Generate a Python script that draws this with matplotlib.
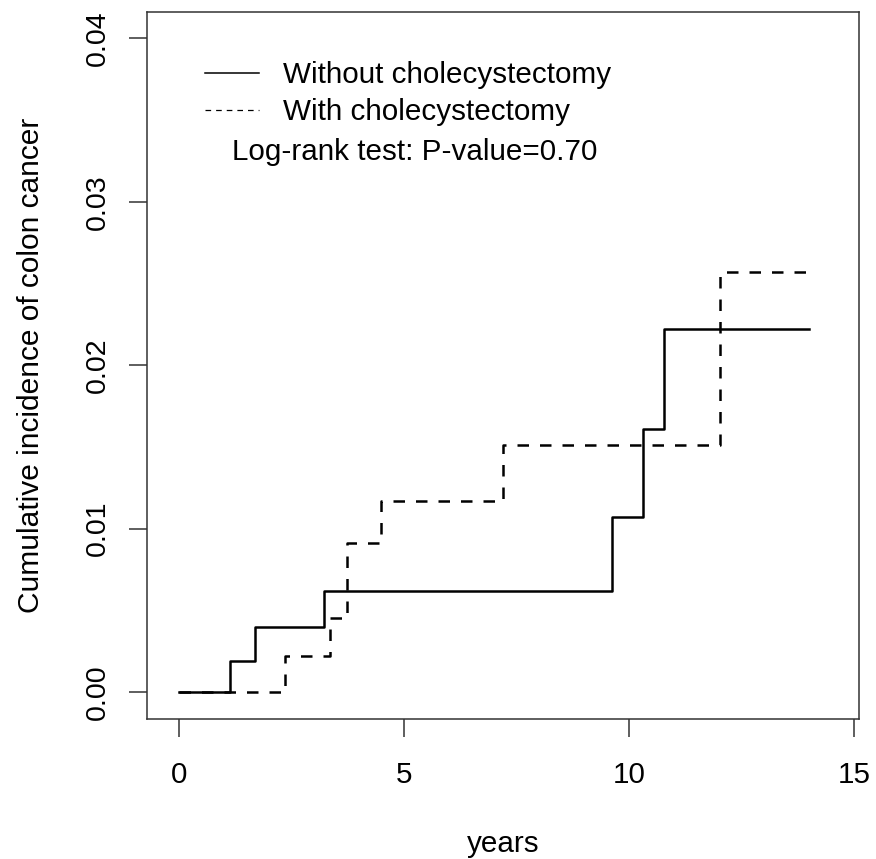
import matplotlib
matplotlib.use('Agg')
import matplotlib.pyplot as plt

plt.rcParams['font.family'] = ['Liberation Sans', 'DejaVu Sans']

# Schaetzwerte aus der Abbildung (Jahre, kumulative Inzidenz)
t_without = [0, 1.12, 1.69, 3.21, 9.63, 10.30, 10.77, 14.0]
ci_without = [0, 0.0019, 0.0040, 0.0062, 0.0107, 0.0161, 0.0222, 0.0222]
t_with = [0, 2.35, 3.36, 3.72, 4.49, 7.19, 12.01, 14.0]
ci_with = [0, 0.0022, 0.0045, 0.0091, 0.0117, 0.0151, 0.0257, 0.0257]

labels = ['Without cholecystectomy', 'With cholecystectomy']
ptext = 'Log-rank test: P-value=0.70'
xticks = [0, 5, 10, 15]
yticks = [0.00, 0.01, 0.02, 0.03, 0.04]

fs = 21.3   # horizontale Texte

fig = plt.figure(figsize=(8.76, 8.59), dpi=100)
ax = fig.add_axes([0.1682, 0.163, 0.8124, 0.8227])

ax.step(t_with, ci_with, where='post', color='black', lw=1.8, dashes=(4.6, 4.4))
ax.step(t_without, ci_without, where='post', color='black', lw=1.8)

ax.set_xlim(-0.71, 15.11)
ax.set_ylim(-0.00165, 0.0416)
ax.set_xticks(xticks)
ax.set_xticklabels([str(v) for v in xticks])
ax.set_yticks(yticks)
ax.set_yticklabels(['%.2f' % v for v in yticks], rotation=90, va='center')

for s in ax.spines.values():
    s.set_linewidth(1.1)
    s.set_color('#333333')
ax.tick_params(axis='both', length=13, width=1.1, color='#333333')
ax.tick_params(axis='x', labelsize=fs, pad=17)
ax.tick_params(axis='y', labelsize=20.5, pad=13)

ax.set_xlabel('years', fontsize=fs, labelpad=30)
ax.set_ylabel('Cumulative incidence of colon cancer', fontsize=21.5, labelpad=29)

# Legende ohne Rahmen
h1, = ax.plot([], [], color='black', lw=1.1)
h2, = ax.plot([], [], color='black', lw=0.9, dashes=(4.5, 4))
ax.legend([h1, h2], labels, loc='upper left', bbox_to_anchor=(0.081, 0.931),
          frameon=False, fontsize=fs, handlelength=1.82, handletextpad=0.81,
          labelspacing=0.3, borderpad=0, borderaxespad=0)

ax.text(0.119, 0.802, ptext, transform=ax.transAxes, fontsize=fs, va='center', ha='left')

plt.savefig('out.png', dpi=100)
